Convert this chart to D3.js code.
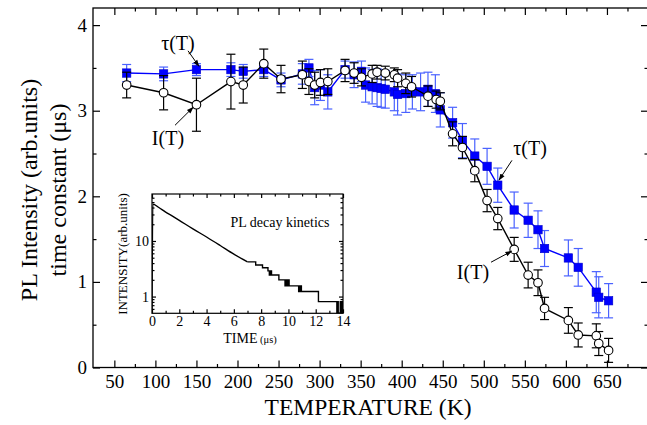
<!DOCTYPE html>
<html>
<head>
<meta charset="utf-8">
<script src="https://d3js.org/d3.v7.min.js"></script>
<style>
body{margin:0;background:#fff;}
text{font-family:"Liberation Serif","Times New Roman",serif;fill:#000;}
</style>
</head>
<body>
<svg id="chart" width="647" height="425"></svg>
<script>
// I(T) - open circles
var tempI = [65,110,150,192,207,232,253,279,287,294,301,310,331,342,351,364,370,380,391,395,405,412,432,442,447,462,474,489,504,517,537,554,566,574,603,615,637,640,652];
var intensity = [3.30,3.21,3.07,3.34,3.30,3.55,3.37,3.42,3.34,3.30,3.33,3.34,3.47,3.44,3.39,3.43,3.45,3.44,3.42,3.38,3.32,3.28,3.17,3.13,3.11,2.73,2.57,2.30,1.95,1.74,1.38,1.08,0.99,0.69,0.55,0.38,0.37,0.28,0.20];
var intensityErr = [0.15,0.20,0.31,0.32,0.21,0.17,0.16,0.16,0.15,0.15,0.15,0.15,0.13,0.12,0.10,0.10,0.08,0.08,0.08,0.10,0.12,0.12,0.12,0.10,0.10,0.14,0.13,0.13,0.13,0.13,0.14,0.15,0.15,0.13,0.15,0.14,0.14,0.14,0.14];
// tau(T) - blue squares
var tempTau = [65,110,150,192,207,232,253,279,287,294,301,310,331,342,351,356,364,370,375,380,391,395,405,413,423,432,441,447,462,474,489,504,517,537,554,566,574,603,615,637,640,652];
var tau = [3.44,3.43,3.48,3.48,3.46,3.48,3.36,3.43,3.50,3.27,3.30,3.22,3.48,3.42,3.46,3.30,3.28,3.27,3.26,3.25,3.22,3.19,3.20,3.22,3.22,3.25,3.20,3.01,2.86,2.65,2.47,2.35,2.13,1.84,1.72,1.61,1.39,1.28,1.17,0.88,0.82,0.78];
var tauErr = [0.10,0.08,0.07,0.08,0.08,0.08,0.08,0.12,0.10,0.20,0.18,0.20,0.10,0.15,0.12,0.20,0.20,0.22,0.22,0.22,0.22,0.24,0.22,0.20,0.22,0.20,0.22,0.20,0.18,0.20,0.20,0.21,0.20,0.21,0.20,0.22,0.21,0.21,0.22,0.24,0.24,0.20];
// inset: PL decay
var decayTime = [0,0.06,0.5,1,1.5,2,3,4,5,6,7];
var decayInt = [0.5,46,40,33,28,23.5,16.5,11.8,8.3,5.8,4.2];
var tailTime = [7.0,7.6,8.1,8.5,8.6,8.64,8.68,8.72,8.76,9.3,9.7,9.75,9.8,9.85,9.9,9.95,10.0,10.05,10.75,10.8,10.85,10.9,10.95,12.2,13.55,13.6,13.65,13.8,13.85,13.9,13.95,14.0];
var tailInt = [4.2,3.7,3.3,2.9,2.45,2.9,2.45,2.9,2.45,2.0,2.0,1.56,2.0,1.56,2.0,1.56,2.0,1.56,1.23,1.56,1.23,1.56,1.23,0.81,0.5,0.81,0.5,0.81,0.5,0.81,0.5,0.81];

var xTicks = [50,100,150,200,250,300,350,400,450,500,550,600,650];
var xMinor = [75,125,175,225,275,325,375,425,475,525,575,625,675];
var yTicks = [0,1,2,3,4];
var yMinor = [0.5,1.5,2.5,3.5];
var insetXTicks = [0,2,4,6,8,10,12,14];
var insetXMinor = [1,3,5,7,9,11,13];
var insetYTicks = [1,10];
var insetYMinor = [0.6,0.7,0.8,0.9,2,3,4,5,6,7,8,9,20,30,40,50,60];

// annotations: [label, text T, text v, arrow from T,v, arrow to T,v]
var notes = [
  ['\u03c4(T)',127.5,3.79,139.7,3.70,153,3.52],
  ['I(T)',115.3,2.68,123.9,2.83,146,3.04],
  ['\u03c4(T)',556.3,2.56,534.3,2.42,518.5,2.19],
  ['I(T)',486.8,1.12,508.8,1.23,534,1.36]
];

var svg = d3.select('#chart');
var xs = d3.scaleLinear().domain([24,700]).range([93,648]);
var ys = d3.scaleLinear().domain([0,4.2]).range([367.5,8]);

svg.append('defs').append('marker').attr('id','arr').attr('viewBox','0 0 10 10')
  .attr('refX',9).attr('refY',5).attr('markerWidth',7).attr('markerHeight',7)
  .attr('markerUnits','userSpaceOnUse').attr('orient','auto')
  .append('path').attr('d','M0,1.5L10,5L0,8.5z').attr('fill','#000');

function styleAxis(g,size){
  g.attr('font-family','"Liberation Serif","Times New Roman",serif').attr('font-size',size);
  g.select('.domain').remove();
  g.selectAll('line').attr('stroke','#000').attr('stroke-width',1.2);
}

// main axes
svg.append('g').attr('transform','translate(0,367.5)')
  .call(d3.axisBottom(xs).tickValues(xTicks).tickSize(-7).tickPadding(7))
  .call(styleAxis,19);
svg.append('g').attr('transform','translate(0,367.5)')
  .call(d3.axisBottom(xs).tickValues(xMinor).tickSize(-3.5).tickFormat(''))
  .call(styleAxis,19);
svg.append('g').attr('transform','translate(0,8)')
  .call(d3.axisTop(xs).tickValues(xTicks).tickSize(-7).tickFormat(''))
  .call(styleAxis,19);
svg.append('g').attr('transform','translate(0,8)')
  .call(d3.axisTop(xs).tickValues(xMinor).tickSize(-3.5).tickFormat(''))
  .call(styleAxis,19);
svg.append('g').attr('transform','translate(93,0)')
  .call(d3.axisLeft(ys).tickValues(yTicks).tickSize(-7).tickPadding(6).tickFormat(d3.format('d')))
  .call(styleAxis,19);
svg.append('g').attr('transform','translate(93,0)')
  .call(d3.axisLeft(ys).tickValues(yMinor).tickSize(-3.5).tickFormat(''))
  .call(styleAxis,19);
svg.append('g').attr('transform','translate(648,0)')
  .call(d3.axisRight(ys).tickValues(yTicks).tickSize(-7).tickFormat(''))
  .call(styleAxis,19);
svg.append('g').attr('transform','translate(648,0)')
  .call(d3.axisRight(ys).tickValues(yMinor).tickSize(-3.5).tickFormat(''))
  .call(styleAxis,19);
svg.append('rect').attr('x',93).attr('y',8).attr('width',555).attr('height',359.5)
  .attr('fill','none').attr('stroke','#000').attr('stroke-width',1.3);

// axis titles
svg.append('text').attr('x',368).attr('y',415).attr('text-anchor','middle')
  .attr('font-size',23.5).text('TEMPERATURE (K)');
svg.append('text').attr('transform','translate(37,190) rotate(-90)').attr('text-anchor','middle')
  .attr('font-size',24).text('PL Intensity (arb.units)');
svg.append('text').attr('transform','translate(66,190) rotate(-90)').attr('text-anchor','middle')
  .attr('font-size',24).text('time constant (\u03bcs)');

// inset
var ix = d3.scaleLinear().domain([0,14]).range([152,343]);
var iy = d3.scaleLog().domain([0.5,70]).range([313.3,194]);
var inset = svg.append('g');
inset.append('rect').attr('x',152).attr('y',194).attr('width',191).attr('height',119.3).attr('fill','#fff');
inset.append('clipPath').attr('id','iclip').append('rect')
  .attr('x',152).attr('y',194).attr('width',191).attr('height',119.3);
var dec = decayTime.map(function(t,i){return [t,decayInt[i]];});
var tail = tailTime.map(function(t,i){return [t,tailInt[i]];});
var ln = d3.line().x(function(d){return ix(d[0]);}).y(function(d){return iy(d[1]);});
inset.append('path').attr('d',ln.curve(d3.curveMonotoneX)(dec)).attr('clip-path','url(#iclip)')
  .attr('fill','none').attr('stroke','#000').attr('stroke-width',1.4);
inset.append('path').attr('d',ln.curve(d3.curveStepAfter)(tail)).attr('clip-path','url(#iclip)')
  .attr('fill','none').attr('stroke','#000').attr('stroke-width',1.4);

inset.append('g').attr('transform','translate(0,313.3)')
  .call(d3.axisBottom(ix).tickValues(insetXTicks).tickSize(-4).tickPadding(3))
  .call(styleAxis,14);
inset.append('g').attr('transform','translate(0,313.3)')
  .call(d3.axisBottom(ix).tickValues(insetXMinor).tickSize(-2.5).tickFormat(''))
  .call(styleAxis,14);
inset.append('g').attr('transform','translate(0,194)')
  .call(d3.axisTop(ix).tickValues(insetXTicks).tickSize(-4).tickFormat(''))
  .call(styleAxis,14);
inset.append('g').attr('transform','translate(0,194)')
  .call(d3.axisTop(ix).tickValues(insetXMinor).tickSize(-2.5).tickFormat(''))
  .call(styleAxis,14);
inset.append('g').attr('transform','translate(152,0)')
  .call(d3.axisLeft(iy).tickValues(insetYTicks).tickSize(-4).tickPadding(3).tickFormat(d3.format('d')))
  .call(styleAxis,14);
inset.append('g').attr('transform','translate(152,0)')
  .call(d3.axisLeft(iy).tickValues(insetYMinor).tickSize(-2.5).tickFormat(''))
  .call(styleAxis,14);
inset.append('g').attr('transform','translate(343,0)')
  .call(d3.axisRight(iy).tickValues(insetYTicks).tickSize(-4).tickFormat(''))
  .call(styleAxis,14);
inset.append('g').attr('transform','translate(343,0)')
  .call(d3.axisRight(iy).tickValues(insetYMinor).tickSize(-2.5).tickFormat(''))
  .call(styleAxis,14);
inset.append('rect').attr('x',152).attr('y',194).attr('width',191).attr('height',119.3)
  .attr('fill','none').attr('stroke','#000').attr('stroke-width',1.2);
var tt = inset.append('text').attr('x',250).attr('y',343).attr('text-anchor','middle').attr('font-size',14);
tt.append('tspan').text('TIME');
tt.append('tspan').attr('font-size',10.5).text(' (\u03bcs)');
inset.append('text').attr('transform','translate(127,254) rotate(-90)').attr('text-anchor','middle')
  .attr('font-size',13).text('INTENSITY(arb.units)');
inset.append('text').attr('x',280).attr('y',227).attr('text-anchor','middle')
  .attr('font-size',14).text('PL decay kinetics');

// data series
function series(T,V,E,lineColor,errColor,kind){
  var rows = T.map(function(t,i){return {t:t,v:V[i],e:E[i]};});
  var g = svg.append('g');
  g.append('path').datum(rows)
    .attr('d',d3.line().x(function(d){return xs(d.t);}).y(function(d){return ys(d.v);}))
    .attr('fill','none').attr('stroke',lineColor).attr('stroke-width',1.4);
  var eb = g.append('g').attr('stroke',errColor).attr('stroke-width',1.2);
  eb.selectAll('.v').data(rows).enter().append('line')
    .attr('x1',function(d){return xs(d.t);}).attr('x2',function(d){return xs(d.t);})
    .attr('y1',function(d){return ys(d.v-d.e);}).attr('y2',function(d){return ys(d.v+d.e);});
  eb.selectAll('.c1').data(rows).enter().append('line')
    .attr('x1',function(d){return xs(d.t)-4.5;}).attr('x2',function(d){return xs(d.t)+4.5;})
    .attr('y1',function(d){return ys(d.v-d.e);}).attr('y2',function(d){return ys(d.v-d.e);});
  eb.selectAll('.c2').data(rows).enter().append('line')
    .attr('x1',function(d){return xs(d.t)-4.5;}).attr('x2',function(d){return xs(d.t)+4.5;})
    .attr('y1',function(d){return ys(d.v+d.e);}).attr('y2',function(d){return ys(d.v+d.e);});
  if(kind=='square'){
    g.selectAll('rect').data(rows).enter().append('rect')
      .attr('x',function(d){return xs(d.t)-4.2;}).attr('y',function(d){return ys(d.v)-4.2;})
      .attr('width',8.4).attr('height',8.4).attr('fill','#0000ff').attr('stroke','#0000c8').attr('stroke-width',0.6);
  } else {
    g.selectAll('circle').data(rows).enter().append('circle')
      .attr('cx',function(d){return xs(d.t);}).attr('cy',function(d){return ys(d.v);})
      .attr('r',4.3).attr('fill','#fff').attr('stroke','#000').attr('stroke-width',1.1);
  }
}
series(tempTau,tau,tauErr,'#0000ff','#4a62ff','square');
series(tempI,intensity,intensityErr,'#000','#000','circle');

// annotations
notes.forEach(function(n){
  svg.append('text').attr('x',xs(n[1])).attr('y',ys(n[2])).attr('dy','0.35em')
    .attr('text-anchor','middle').attr('font-size',20).text(n[0]);
  svg.append('line').attr('x1',xs(n[3])).attr('y1',ys(n[4])).attr('x2',xs(n[5])).attr('y2',ys(n[6]))
    .attr('stroke','#000').attr('stroke-width',1).attr('marker-end','url(#arr)');
});
</script>
</body>
</html>
